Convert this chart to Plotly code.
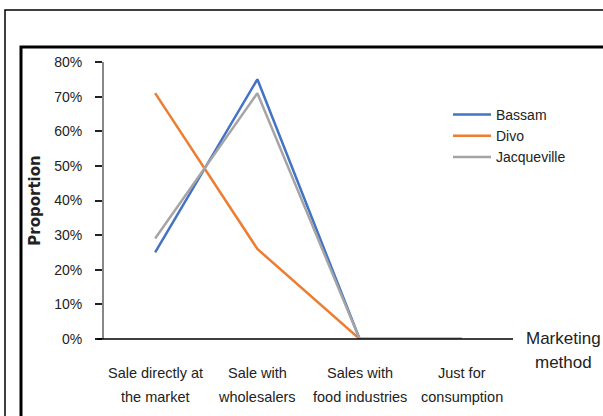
import plotly.graph_objects as go

categories = ["Sale directly at<br>the market", "Sale with<br>wholesalers",
              "Sales with<br>food industries", "Just for<br>consumption"]
bassam = [0.25, 0.75, 0.0, 0.0]
divo = [0.71, 0.26, 0.0, 0.0]
jacqueville = [0.29, 0.71, 0.0, 0.0]
y_ticks = [0, 0.1, 0.2, 0.3, 0.4, 0.5, 0.6, 0.7, 0.8]
y_ticklabels = ["0%", "10%", "20%", "30%", "40%", "50%", "60%", "70%", "80%"]

W, H = 603, 416
L, R, T, B = 104, 513, 62, 339

def px(x):
    return (x - L) / (R - L)

def py(y):
    return (B - y) / (B - T)

FONT = "Liberation Sans Narrow, Liberation Sans, Arial"

fig = go.Figure()
xs = list(range(len(categories)))
for name, vals, col in [("Bassam", bassam, "#4472C4"),
                        ("Divo", divo, "#ED7D31"),
                        ("Jacqueville", jacqueville, "#A5A5A5")]:
    fig.add_trace(go.Scatter(x=xs, y=vals, name=name, mode="lines",
                             line=dict(color=col, width=2.5)))

fig.update_layout(
    width=W, height=H,
    margin=dict(l=L, r=W - R, t=T, b=H - B),
    paper_bgcolor="white", plot_bgcolor="white",
    font=dict(family=FONT, size=12, color="#222"),
    showlegend=True,
    legend=dict(x=px(448), y=py(99), xanchor="left", yanchor="top",
                bgcolor="rgba(0,0,0,0)", font=dict(size=14, family=FONT),
                tracegroupgap=0, itemwidth=38),
    xaxis=dict(range=[-0.5, 3.5], tickvals=xs, ticktext=[""] * len(xs),
               showgrid=False, zeroline=False, showline=False,
               ticks="", fixedrange=True),
    yaxis=dict(range=[0, 0.8], tickvals=y_ticks, ticktext=y_ticklabels,
               showgrid=False, zeroline=False, showline=True, linecolor="#888",
               linewidth=2, ticks="outside", ticklen=7, tickcolor="#222",
               tickwidth=1.5, tickfont=dict(size=14, family=FONT),
               ticklabelstandoff=10,
               title=dict(text="<b>Proportion</b>", font=dict(size=15, family="DejaVu Sans"),
                          standoff=10),
               fixedrange=True),
)

# category labels, two lines each, placed on the x axis scale
for i, cat in enumerate(categories):
    lines = cat.split("<br>")
    for j, ln in enumerate(lines):
        fig.add_annotation(text=ln, xref="x", yref="paper", x=xs[i], y=py(373 + 24.5 * j),
                           xanchor="center", yanchor="middle", showarrow=False,
                           font=dict(size=14.5, family=FONT, color="#222"))

shapes = []
shapes.append(dict(type="line", xref="paper", yref="paper",
                   x0=px(97), x1=px(513), y0=0, y1=0,
                   line=dict(color="black", width=1.5)))
shapes.append(dict(type="rect", xref="paper", yref="paper",
                   x0=px(5), x1=px(700), y0=py(10), y1=py(500),
                   line=dict(color="black", width=1.5)))
shapes.append(dict(type="rect", xref="paper", yref="paper",
                   x0=px(21), x1=px(700), y0=py(47), y1=py(500),
                   line=dict(color="black", width=3)))
fig.update_layout(shapes=shapes)

for j, ln in enumerate(["Marketing", "method"]):
    fig.add_annotation(text=ln, xref="paper", yref="paper",
                       x=px(563), y=py(338 + 24.5 * j), xanchor="center", yanchor="middle",
                       showarrow=False, font=dict(size=17, family=FONT, color="#222"))

fig.write_html("out.html")
